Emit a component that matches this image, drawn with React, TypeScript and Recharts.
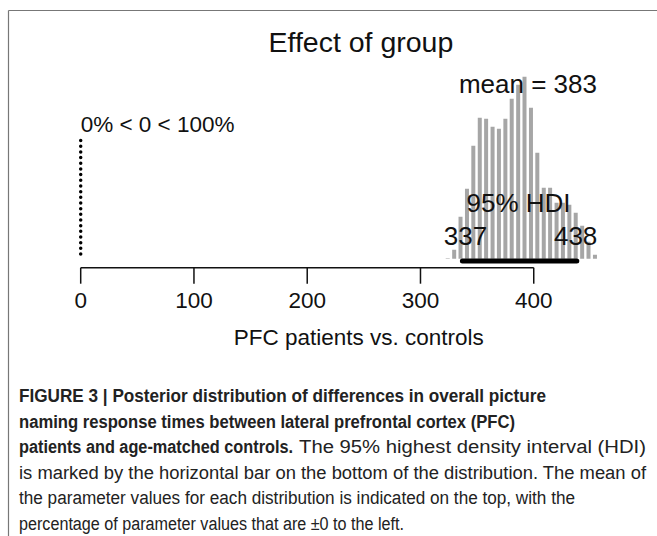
import React from 'react';
import { BarChart, Bar, XAxis, YAxis, ReferenceLine, ReferenceDot } from 'recharts';

// posterior histogram: bin centres (PFC patients vs. controls, ms) and bar heights
const binMids = [
  324.2, 329.9, 335.5, 341.2, 346.8, 352.5, 358.1, 363.8, 369.4, 375.1, 380.7, 386.4,
  392.0, 397.7, 403.3, 409.0, 414.6, 420.3, 425.9, 431.6, 437.2, 442.9, 448.5, 454.2,
];
const binHeights = [
  0.5, 9, 42, 70, 113, 141, 140, 132, 130, 140, 160, 174,
  182, 151, 106, 71, 71, 56, 56, 54, 46, 33, 17, 4,
];
const xTicks = [0, 100, 200, 300, 400];
const meanValue = 383;
const hdiLow = 337;
const hdiHigh = 438;
const pctBelow = 0;
const pctAbove = 100;
const compValue = 0;

const captionLines = [
  'FIGURE 3 | Posterior distribution of differences in overall picture',
  'naming response times between lateral prefrontal cortex (PFC)',
  'patients and age-matched controls.',
  'The 95% highest density interval (HDI)',
  'is marked by the horizontal bar on the bottom of the distribution. The mean of',
  'the parameter values for each distribution is indicated on the top, with the',
  'percentage of parameter values that are \u00b10 to the left.',
];

const data = binMids.map((mid, i) => ({ mid, count: binHeights[i] }));

const FONT = '"Liberation Sans", Arial, Helvetica, sans-serif';

function textLabel(value: string, fontSize: number, position: 'center' | 'right' = 'center') {
  return {
    value,
    position,
    offset: 0,
    fontSize,
    fontFamily: FONT,
    fill: '#111',
  };
}

function Caption() {
  const x = 19;
  return (
    <svg width={657} height={536} style={{ position: 'absolute', left: 0, top: 0 }}>
      <line x1={8.5} y1={10.5} x2={657} y2={10.5} stroke="#777" strokeWidth={1.2} />
      <line x1={8.5} y1={10.5} x2={8.5} y2={536} stroke="#777" strokeWidth={1.2} />
      <g fontFamily={FONT} fontSize={18} fill="#222">
        <text x={x} y={402} fontWeight="bold" textLength={527} lengthAdjust="spacingAndGlyphs">{captionLines[0]}</text>
        <text x={x} y={427.5} fontWeight="bold" textLength={496} lengthAdjust="spacingAndGlyphs">{captionLines[1]}</text>
        <text x={x} y={453} fontWeight="bold" textLength={274} lengthAdjust="spacingAndGlyphs">{captionLines[2]}</text>
        <text x={299} y={453} textLength={347} lengthAdjust="spacingAndGlyphs">{captionLines[3]}</text>
        <text x={x} y={478.5} textLength={627} lengthAdjust="spacingAndGlyphs">{captionLines[4]}</text>
        <text x={x} y={504} textLength={556} lengthAdjust="spacingAndGlyphs">{captionLines[5]}</text>
        <text x={x} y={529.5} textLength={385} lengthAdjust="spacingAndGlyphs">{captionLines[6]}</text>
      </g>
    </svg>
  );
}

export default function App() {
  return (
    <div style={{ position: 'absolute', left: 0, top: 0, width: 657, height: 536, background: '#fff' }}>
      <Caption />
      <div style={{ position: 'absolute', left: 0, top: 0 }}>
        <BarChart
          width={657}
          height={360}
          data={data}
          margin={{ top: 68.7, right: 55.3, bottom: 0, left: 80.7 }}
        >
          <XAxis
            type="number"
            dataKey="mid"
            domain={[0, 460]}
            allowDataOverflow
            ticks={xTicks}
            interval={0}
            height={92.3}
            axisLine={false}
            tickSize={16}
            tickMargin={8}
            tickLine={{ stroke: '#111', strokeWidth: 1.5 }}
            tick={{ fontSize: 22.5, fill: '#111', fontFamily: FONT }}
          />
          <YAxis hide type="number" domain={[-9, 190]} allowDataOverflow />
          <Bar dataKey="count" fill="#a6a6a6" barSize={4} isAnimationActive={false} />
          {/* axis line only spans the tick range, R style */}
          <ReferenceLine
            segment={[{ x: xTicks[0], y: -9 }, { x: xTicks[xTicks.length - 1], y: -9 }]}
            stroke="#111"
            strokeWidth={1.5}
            ifOverflow="visible"
          />
          {/* comparison value */}
          <ReferenceLine
            segment={[{ x: compValue, y: 4.7 }, { x: compValue, y: 123.7 }]}
            stroke="#000"
            strokeWidth={3.5}
            strokeDasharray="0 5.67"
            strokeLinecap="round"
            ifOverflow="visible"
          />
          {/* HDI bar */}
          <ReferenceLine
            segment={[{ x: hdiLow, y: -2.3 }, { x: hdiHigh, y: -2.3 }]}
            stroke="#000"
            strokeWidth={5}
            strokeLinecap="round"
            ifOverflow="visible"
          />
          <ReferenceDot x={247.4} y={216.8} r={0} ifOverflow="visible" label={textLabel('Effect of group', 28.5)} />
          <ReferenceDot x={394.9} y={174.9} r={0} ifOverflow="visible" label={textLabel(`mean = ${meanValue}`, 26)} />
          <ReferenceDot x={386.6} y={56.2} r={0} ifOverflow="visible" label={textLabel('95% HDI', 26)} />
          <ReferenceDot x={339.7} y={22.9} r={0} ifOverflow="visible" label={textLabel(String(hdiLow), 26)} />
          <ReferenceDot x={437} y={22.9} r={0} ifOverflow="visible" label={textLabel(String(hdiHigh), 26)} />
          <ReferenceDot
            x={compValue}
            y={135}
            r={0}
            ifOverflow="visible"
            label={textLabel(`${pctBelow}% < ${compValue} < ${pctAbove}%`, 22.5, 'right')}
          />
          <ReferenceDot x={245.5} y={-78.3} r={0} ifOverflow="visible" label={textLabel('PFC patients vs. controls', 22.5)} />
        </BarChart>
      </div>
    </div>
  );
}
